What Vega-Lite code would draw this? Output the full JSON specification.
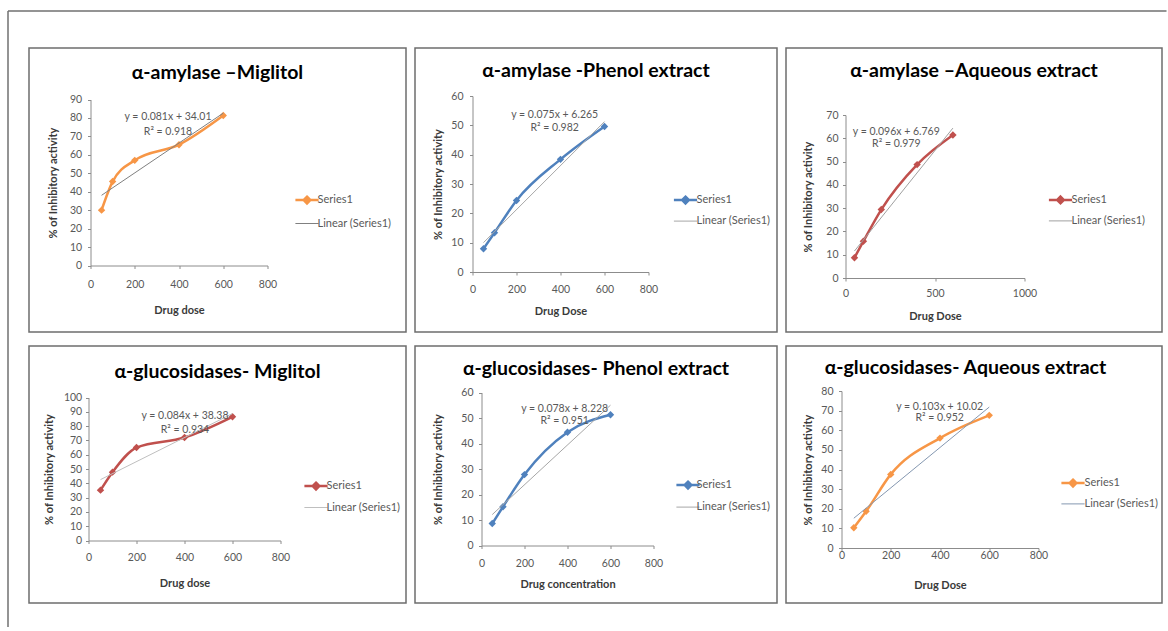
{
"$schema": "https://vega.github.io/schema/vega-lite/v6.json",
"background": "white",
"padding": {"left": 6.5, "top": 10, "right": 0, "bottom": 0},
"config": {
  "font": "Lato",
  "view": {"stroke": null},
  "axis": {"grid": false, "zindex": 1, "domainColor": "#8c8c8c", "tickColor": "#8c8c8c", "tickSize": 3, "labelColor": "#595959", "labelFontSize": 10.5, "titleFontSize": 11, "titleFontWeight": "bold", "titleColor": "#3a3a3a", "labelOverlap": false, "labelFlush": false},
  "title": {"fontSize": 19.5, "fontWeight": "bold", "color": "#000000", "anchor": "middle", "frame": "bounds", "baseline": "alphabetic"},
  "legend": {"orient": "none", "padding": 0, "symbolSize": 256, "labelFontSize": 11, "labelColor": "#595959", "symbolOpacity": 1}
},
"bounds": "flush",
"spacing": 75,
"resolve": {"scale": {"color": "independent", "x": "independent", "y": "independent"}},
"vconcat": [
  {
    "width": 10, "height": 10,
    "data": {"values": [{}]},
    "layer": [
      {"mark": {"type": "rule", "stroke": "#707070", "strokeWidth": 1.5},
       "encoding": {
         "x": {"datum": -82.5, "type": "quantitative", "scale": {"domain": [0, 10], "range": [0, 10], "nice": false, "zero": false}, "axis": null},
         "x2": {"datum": 1076},
         "y": {"datum": 0, "type": "quantitative", "scale": {"domain": [0, 10], "range": [0, 10], "nice": false, "zero": false}, "axis": null}}},
      {"mark": {"type": "rule", "stroke": "#707070", "strokeWidth": 1.5},
       "encoding": {
         "x": {"datum": -82.5, "type": "quantitative", "scale": {"domain": [0, 10], "range": [0, 10], "nice": false, "zero": false}, "axis": null},
         "y": {"datum": 0, "type": "quantitative", "scale": {"domain": [0, 10], "range": [0, 10], "nice": false, "zero": false}, "axis": null},
         "y2": {"datum": 616}}}
    ]
  },
  {
    "spacing": 12,
    "resolve": {"scale": {"color": "independent", "x": "independent", "y": "independent"}},
    "vconcat": [
      {
        "spacing": 6,
        "resolve": {"scale": {"color": "independent", "x": "independent", "y": "independent"}},
        "hconcat": [
          {
            "width": 177, "height": 169.5,
            "title": {"text": "α-amylase –Miglitol", "offset": -36.5},
            "data": {"values": [
              {"x": 50, "y": 30, "s": "Series1"}, {"x": 100, "y": 45.5, "s": "Series1"}, {"x": 200, "y": 57, "s": "Series1"}, {"x": 400, "y": 65.5, "s": "Series1"}, {"x": 600, "y": 81.3, "s": "Series1"},
              {"x": 50, "y": 38.06, "s": "Linear (Series1)"}, {"x": 600, "y": 82.61, "s": "Linear (Series1)"}]},
            "layer": [
              {"data": {"values": [{}]}, "mark": {"type": "rect", "fill": "transparent", "stroke": "#6d6d6d", "strokeWidth": 1.5}, "encoding": {"x": {"datum": -277.97, "type": "quantitative"}, "x2": {"datum": 1425.99}, "y": {"datum": 117.92, "type": "quantitative"}, "y2": {"datum": -36.05}}},
              {"transform": [{"filter": "datum.s === 'Series1'"}], "mark": {"type": "line", "strokeWidth": 2.5, "interpolate": "monotone"},
               "encoding": {
                 "x": {"field": "x", "type": "quantitative", "scale": {"domain": [0, 800], "nice": false, "zero": false}, "axis": {"values": [0, 200, 400, 600, 800], "tickCount": 20, "labelOverlap": false, "labelPadding": 10.7, "titlePadding": 14.3, "title": "Drug dose"}},
                 "y": {"field": "y", "type": "quantitative", "scale": {"domain": [0, 90], "nice": false, "range": [169.5, 3.5]}, "axis": {"values": [0, 10, 20, 30, 40, 50, 60, 70, 80, 90], "tickCount": 20, "labelOverlap": false, "labelPadding": 5.8, "titlePadding": 11.5, "title": "% of Inhibitory activity"}},
                 "color": {"field": "s", "type": "nominal", "scale": {"domain": ["Series1", "Linear (Series1)"], "range": ["#F79646", "#808080"]}, "legend": {"legendX": 211, "legendY": 98.6, "rowPadding": 8.4, "labelOffset": 5, "title": null, "symbolType": {"expr": "datum.value === 'Series1' ? 'M-1.45,0H1.45M0,-0.42L0.42,0L0,0.42L-0.42,0Z' : 'M-1.45,0H1.45'"}, "symbolStrokeWidth": {"expr": "datum.value === 'Series1' ? 2.5 : 1"}, "symbolFillColor": {"expr": "datum.value === 'Series1' ? '#F79646' : 'transparent'"}}}}},
              {"transform": [{"filter": "datum.s === 'Series1'"}], "mark": {"type": "point", "shape": "diamond", "filled": true, "size": 55, "opacity": 1},
               "encoding": {"x": {"field": "x", "type": "quantitative"}, "y": {"field": "y", "type": "quantitative"},
                 "color": {"field": "s", "type": "nominal", "scale": {"domain": ["Series1", "Linear (Series1)"], "range": ["#F79646", "#808080"]}, "legend": {"legendX": 211, "legendY": 98.6, "rowPadding": 8.4, "labelOffset": 5, "title": null, "symbolType": {"expr": "datum.value === 'Series1' ? 'M-1.45,0H1.45M0,-0.42L0.42,0L0,0.42L-0.42,0Z' : 'M-1.45,0H1.45'"}, "symbolStrokeWidth": {"expr": "datum.value === 'Series1' ? 2.5 : 1"}, "symbolFillColor": {"expr": "datum.value === 'Series1' ? '#F79646' : 'transparent'"}}}}},
              {"transform": [{"filter": "datum.s !== 'Series1'"}], "mark": {"type": "line", "strokeWidth": 1},
               "encoding": {"x": {"field": "x", "type": "quantitative"}, "y": {"field": "y", "type": "quantitative"},
                 "color": {"field": "s", "type": "nominal", "scale": {"domain": ["Series1", "Linear (Series1)"], "range": ["#F79646", "#808080"]}, "legend": {"legendX": 211, "legendY": 98.6, "rowPadding": 8.4, "labelOffset": 5, "title": null, "symbolType": {"expr": "datum.value === 'Series1' ? 'M-1.45,0H1.45M0,-0.42L0.42,0L0,0.42L-0.42,0Z' : 'M-1.45,0H1.45'"}, "symbolStrokeWidth": {"expr": "datum.value === 'Series1' ? 2.5 : 1"}, "symbolFillColor": {"expr": "datum.value === 'Series1' ? '#F79646' : 'transparent'"}}}}},
              {"data": {"values": [{}]}, "mark": {"type": "text", "align": "center", "baseline": "alphabetic", "fontSize": 10.5, "lineHeight": 15, "color": "#595959", "text": ["y = 0.081x + 34.01", "R² = 0.918"]}, "encoding": {"x": {"datum": 350.3, "type": "quantitative"}, "y": {"datum": 78.9, "type": "quantitative"}}}
            ]
          },
          {
            "width": 176, "height": 176,
            "title": {"text": "α-amylase -Phenol extract", "offset": -33.8},
            "data": {"values": [
              {"x": 50, "y": 7.9, "s": "Series1"}, {"x": 100, "y": 13.4, "s": "Series1"}, {"x": 200, "y": 24.4, "s": "Series1"}, {"x": 400, "y": 38.4, "s": "Series1"}, {"x": 600, "y": 49.6, "s": "Series1"},
              {"x": 50, "y": 10.02, "s": "Linear (Series1)"}, {"x": 600, "y": 51.27, "s": "Linear (Series1)"}]},
            "layer": [
              {"data": {"values": [{}]}, "mark": {"type": "rect", "fill": "transparent", "stroke": "#6d6d6d", "strokeWidth": 1.5}, "encoding": {"x": {"datum": -261.36, "type": "quantitative"}, "x2": {"datum": 1384.09}, "y": {"datum": 76.36, "type": "quantitative"}, "y2": {"datum": -20.45}}},
              {"transform": [{"filter": "datum.s === 'Series1'"}], "mark": {"type": "line", "strokeWidth": 2.5, "interpolate": "monotone"},
               "encoding": {
                 "x": {"field": "x", "type": "quantitative", "scale": {"domain": [0, 800], "nice": false, "zero": false}, "axis": {"values": [0, 200, 400, 600, 800], "tickCount": 20, "labelOverlap": false, "labelPadding": 9.2, "titlePadding": 11, "title": "Drug Dose"}},
                 "y": {"field": "y", "type": "quantitative", "scale": {"domain": [0, 60], "nice": false, "range": [176, 0]}, "axis": {"values": [0, 10, 20, 30, 40, 50, 60], "tickCount": 20, "labelOverlap": false, "labelPadding": 6.5, "titlePadding": 7.8, "title": "% of Inhibitory activity"}},
                 "color": {"field": "s", "type": "nominal", "scale": {"domain": ["Series1", "Linear (Series1)"], "range": ["#4F81BD", "#a6a6a6"]}, "legend": {"legendX": 207.5, "legendY": 98.6, "rowPadding": 6, "labelOffset": 5.5, "title": null, "symbolType": {"expr": "datum.value === 'Series1' ? 'M-1.45,0H1.45M0,-0.42L0.42,0L0,0.42L-0.42,0Z' : 'M-1.45,0H1.45'"}, "symbolStrokeWidth": {"expr": "datum.value === 'Series1' ? 2.5 : 1"}, "symbolFillColor": {"expr": "datum.value === 'Series1' ? '#4F81BD' : 'transparent'"}}}}},
              {"transform": [{"filter": "datum.s === 'Series1'"}], "mark": {"type": "point", "shape": "diamond", "filled": true, "size": 55, "opacity": 1},
               "encoding": {"x": {"field": "x", "type": "quantitative"}, "y": {"field": "y", "type": "quantitative"},
                 "color": {"field": "s", "type": "nominal", "scale": {"domain": ["Series1", "Linear (Series1)"], "range": ["#4F81BD", "#a6a6a6"]}, "legend": {"legendX": 207.5, "legendY": 98.6, "rowPadding": 6, "labelOffset": 5.5, "title": null, "symbolType": {"expr": "datum.value === 'Series1' ? 'M-1.45,0H1.45M0,-0.42L0.42,0L0,0.42L-0.42,0Z' : 'M-1.45,0H1.45'"}, "symbolStrokeWidth": {"expr": "datum.value === 'Series1' ? 2.5 : 1"}, "symbolFillColor": {"expr": "datum.value === 'Series1' ? '#4F81BD' : 'transparent'"}}}}},
              {"transform": [{"filter": "datum.s !== 'Series1'"}], "mark": {"type": "line", "strokeWidth": 1},
               "encoding": {"x": {"field": "x", "type": "quantitative"}, "y": {"field": "y", "type": "quantitative"},
                 "color": {"field": "s", "type": "nominal", "scale": {"domain": ["Series1", "Linear (Series1)"], "range": ["#4F81BD", "#a6a6a6"]}, "legend": {"legendX": 207.5, "legendY": 98.6, "rowPadding": 6, "labelOffset": 5.5, "title": null, "symbolType": {"expr": "datum.value === 'Series1' ? 'M-1.45,0H1.45M0,-0.42L0.42,0L0,0.42L-0.42,0Z' : 'M-1.45,0H1.45'"}, "symbolStrokeWidth": {"expr": "datum.value === 'Series1' ? 2.5 : 1"}, "symbolFillColor": {"expr": "datum.value === 'Series1' ? '#4F81BD' : 'transparent'"}}}}},
              {"data": {"values": [{}]}, "mark": {"type": "text", "align": "center", "baseline": "alphabetic", "fontSize": 10.5, "lineHeight": 13.3, "color": "#595959", "text": ["y = 0.075x + 6.265", "R² = 0.982"]}, "encoding": {"x": {"datum": 373.6, "type": "quantitative"}, "y": {"datum": 52.5, "type": "quantitative"}}}
            ]
          },
          {
            "width": 179, "height": 182,
            "title": {"text": "α-amylase –Aqueous extract", "offset": -33.8},
            "data": {"values": [
              {"x": 50, "y": 8.7, "s": "Series1"}, {"x": 100, "y": 15.8, "s": "Series1"}, {"x": 200, "y": 29.4, "s": "Series1"}, {"x": 400, "y": 48.7, "s": "Series1"}, {"x": 600, "y": 61.4, "s": "Series1"},
              {"x": 50, "y": 11.57, "s": "Linear (Series1)"}, {"x": 600, "y": 64.37, "s": "Linear (Series1)"}]},
            "layer": [
              {"data": {"values": [{}]}, "mark": {"type": "rect", "fill": "transparent", "stroke": "#6d6d6d", "strokeWidth": 1.5}, "encoding": {"x": {"datum": -332.4, "type": "quantitative"}, "x2": {"datum": 1768.16}, "y": {"datum": 98.77, "type": "quantitative"}, "y2": {"datum": -23.19}}},
              {"transform": [{"filter": "datum.s === 'Series1'"}], "mark": {"type": "line", "strokeWidth": 2.5, "interpolate": "monotone"},
               "encoding": {
                 "x": {"field": "x", "type": "quantitative", "scale": {"domain": [0, 1000], "nice": false, "zero": false}, "axis": {"values": [0, 500, 1000], "tickCount": 20, "format": "d", "labelOverlap": false, "labelPadding": 7.5, "titlePadding": 11.7, "title": "Drug Dose"}},
                 "y": {"field": "y", "type": "quantitative", "scale": {"domain": [0, 70], "nice": false, "range": [182, 19]}, "axis": {"values": [0, 10, 20, 30, 40, 50, 60, 70], "tickCount": 20, "labelOverlap": false, "labelPadding": 4.5, "titlePadding": 12.8, "title": "% of Inhibitory activity"}},
                 "color": {"field": "s", "type": "nominal", "scale": {"domain": ["Series1", "Linear (Series1)"], "range": ["#C0504D", "#a0a0a0"]}, "legend": {"legendX": 209.5, "legendY": 98.4, "rowPadding": 6, "labelOffset": 5.5, "title": null, "symbolType": {"expr": "datum.value === 'Series1' ? 'M-1.45,0H1.45M0,-0.42L0.42,0L0,0.42L-0.42,0Z' : 'M-1.45,0H1.45'"}, "symbolStrokeWidth": {"expr": "datum.value === 'Series1' ? 2.5 : 1"}, "symbolFillColor": {"expr": "datum.value === 'Series1' ? '#C0504D' : 'transparent'"}}}}},
              {"transform": [{"filter": "datum.s === 'Series1'"}], "mark": {"type": "point", "shape": "diamond", "filled": true, "size": 55, "opacity": 1},
               "encoding": {"x": {"field": "x", "type": "quantitative"}, "y": {"field": "y", "type": "quantitative"},
                 "color": {"field": "s", "type": "nominal", "scale": {"domain": ["Series1", "Linear (Series1)"], "range": ["#C0504D", "#a0a0a0"]}, "legend": {"legendX": 209.5, "legendY": 98.4, "rowPadding": 6, "labelOffset": 5.5, "title": null, "symbolType": {"expr": "datum.value === 'Series1' ? 'M-1.45,0H1.45M0,-0.42L0.42,0L0,0.42L-0.42,0Z' : 'M-1.45,0H1.45'"}, "symbolStrokeWidth": {"expr": "datum.value === 'Series1' ? 2.5 : 1"}, "symbolFillColor": {"expr": "datum.value === 'Series1' ? '#C0504D' : 'transparent'"}}}}},
              {"transform": [{"filter": "datum.s !== 'Series1'"}], "mark": {"type": "line", "strokeWidth": 1},
               "encoding": {"x": {"field": "x", "type": "quantitative"}, "y": {"field": "y", "type": "quantitative"},
                 "color": {"field": "s", "type": "nominal", "scale": {"domain": ["Series1", "Linear (Series1)"], "range": ["#C0504D", "#a0a0a0"]}, "legend": {"legendX": 209.5, "legendY": 98.4, "rowPadding": 6, "labelOffset": 5.5, "title": null, "symbolType": {"expr": "datum.value === 'Series1' ? 'M-1.45,0H1.45M0,-0.42L0.42,0L0,0.42L-0.42,0Z' : 'M-1.45,0H1.45'"}, "symbolStrokeWidth": {"expr": "datum.value === 'Series1' ? 2.5 : 1"}, "symbolFillColor": {"expr": "datum.value === 'Series1' ? '#C0504D' : 'transparent'"}}}}},
              {"data": {"values": [{}]}, "mark": {"type": "text", "align": "center", "baseline": "alphabetic", "fontSize": 10.5, "lineHeight": 12.3, "color": "#595959", "text": ["y = 0.096x + 6.769", "R² = 0.979"]}, "encoding": {"x": {"datum": 283.8, "type": "quantitative"}, "y": {"datum": 61.5, "type": "quantitative"}}}
            ]
          }
        ]
      },
      {
        "spacing": 6,
        "resolve": {"scale": {"color": "independent", "x": "independent", "y": "independent"}},
        "hconcat": [
          {
            "width": 190, "height": 149.5,
            "title": {"text": "α-glucosidases- Miglitol", "offset": -36.8},
            "data": {"values": [
              {"x": 50, "y": 35.2, "s": "Series1"}, {"x": 100, "y": 47.8, "s": "Series1"}, {"x": 200, "y": 65, "s": "Series1"}, {"x": 400, "y": 72, "s": "Series1"}, {"x": 600, "y": 86.5, "s": "Series1"},
              {"x": 50, "y": 42.58, "s": "Linear (Series1)"}, {"x": 600, "y": 88.78, "s": "Linear (Series1)"}]},
            "layer": [
              {"data": {"values": [{}]}, "mark": {"type": "rect", "fill": "transparent", "stroke": "#6d6d6d", "strokeWidth": 1.5}, "encoding": {"x": {"datum": -247.92, "type": "quantitative"}, "x2": {"datum": 1322.92}, "y": {"datum": 136.01, "type": "quantitative"}, "y2": {"datum": -43.71}}},
              {"transform": [{"filter": "datum.s === 'Series1'"}], "mark": {"type": "line", "strokeWidth": 2.5, "interpolate": "monotone"},
               "encoding": {
                 "x": {"field": "x", "type": "quantitative", "scale": {"domain": [0, 800], "nice": false, "zero": false, "range": [-2, 190]}, "axis": {"values": [0, 200, 400, 600, 800], "tickCount": 20, "labelOverlap": false, "labelPadding": 9, "titlePadding": 14.3, "title": "Drug dose"}},
                 "y": {"field": "y", "type": "quantitative", "scale": {"domain": [0, 100], "nice": false, "range": [149.5, 6.5]}, "axis": {"values": [0, 10, 20, 30, 40, 50, 60, 70, 80, 90, 100], "tickCount": 20, "labelOverlap": false, "labelPadding": 3.8, "titlePadding": 8.7, "offset": 2, "title": "% of Inhibitory activity"}},
                 "color": {"field": "s", "type": "nominal", "scale": {"domain": ["Series1", "Linear (Series1)"], "range": ["#C0504D", "#bfbfbf"]}, "legend": {"legendX": 220, "legendY": 89.6, "rowPadding": 6.4, "labelOffset": 5, "title": null, "symbolType": {"expr": "datum.value === 'Series1' ? 'M-1.45,0H1.45M0,-0.42L0.42,0L0,0.42L-0.42,0Z' : 'M-1.45,0H1.45'"}, "symbolStrokeWidth": {"expr": "datum.value === 'Series1' ? 2.5 : 1"}, "symbolFillColor": {"expr": "datum.value === 'Series1' ? '#C0504D' : 'transparent'"}}}}},
              {"transform": [{"filter": "datum.s === 'Series1'"}], "mark": {"type": "point", "shape": "diamond", "filled": true, "size": 55, "opacity": 1},
               "encoding": {"x": {"field": "x", "type": "quantitative"}, "y": {"field": "y", "type": "quantitative"},
                 "color": {"field": "s", "type": "nominal", "scale": {"domain": ["Series1", "Linear (Series1)"], "range": ["#C0504D", "#bfbfbf"]}, "legend": {"legendX": 220, "legendY": 89.6, "rowPadding": 6.4, "labelOffset": 5, "title": null, "symbolType": {"expr": "datum.value === 'Series1' ? 'M-1.45,0H1.45M0,-0.42L0.42,0L0,0.42L-0.42,0Z' : 'M-1.45,0H1.45'"}, "symbolStrokeWidth": {"expr": "datum.value === 'Series1' ? 2.5 : 1"}, "symbolFillColor": {"expr": "datum.value === 'Series1' ? '#C0504D' : 'transparent'"}}}}},
              {"transform": [{"filter": "datum.s !== 'Series1'"}], "mark": {"type": "line", "strokeWidth": 1},
               "encoding": {"x": {"field": "x", "type": "quantitative"}, "y": {"field": "y", "type": "quantitative"},
                 "color": {"field": "s", "type": "nominal", "scale": {"domain": ["Series1", "Linear (Series1)"], "range": ["#C0504D", "#bfbfbf"]}, "legend": {"legendX": 220, "legendY": 89.6, "rowPadding": 6.4, "labelOffset": 5, "title": null, "symbolType": {"expr": "datum.value === 'Series1' ? 'M-1.45,0H1.45M0,-0.42L0.42,0L0,0.42L-0.42,0Z' : 'M-1.45,0H1.45'"}, "symbolStrokeWidth": {"expr": "datum.value === 'Series1' ? 2.5 : 1"}, "symbolFillColor": {"expr": "datum.value === 'Series1' ? '#C0504D' : 'transparent'"}}}}},
              {"data": {"values": [{}]}, "mark": {"type": "text", "align": "center", "baseline": "alphabetic", "fontSize": 10.5, "lineHeight": 14.3, "color": "#595959", "text": ["y = 0.084x + 38.38", "R² = 0.934"]}, "encoding": {"x": {"datum": 402, "type": "quantitative"}, "y": {"datum": 85.2, "type": "quantitative"}}}
            ]
          },
          {
            "width": 172, "height": 154.5,
            "title": {"text": "α-glucosidases- Phenol extract", "offset": -34.2},
            "data": {"values": [
              {"x": 50, "y": 8.6, "s": "Series1"}, {"x": 100, "y": 15.2, "s": "Series1"}, {"x": 200, "y": 27.8, "s": "Series1"}, {"x": 400, "y": 44.4, "s": "Series1"}, {"x": 600, "y": 51.3, "s": "Series1"},
              {"x": 50, "y": 12.13, "s": "Linear (Series1)"}, {"x": 600, "y": 55.03, "s": "Linear (Series1)"}]},
            "layer": [
              {"data": {"values": [{}]}, "mark": {"type": "rect", "fill": "transparent", "stroke": "#6d6d6d", "strokeWidth": 1.5}, "encoding": {"x": {"datum": -309.3, "type": "quantitative"}, "x2": {"datum": 1374.42}, "y": {"datum": 78.24, "type": "quantitative"}, "y2": {"datum": -22.55}}},
              {"transform": [{"filter": "datum.s === 'Series1'"}], "mark": {"type": "line", "strokeWidth": 2.5, "interpolate": "monotone"},
               "encoding": {
                 "x": {"field": "x", "type": "quantitative", "scale": {"domain": [0, 800], "nice": false, "zero": false}, "axis": {"values": [0, 200, 400, 600, 800], "tickCount": 20, "labelOverlap": false, "labelPadding": 9.7, "titlePadding": 9.6, "title": "Drug concentration"}},
                 "y": {"field": "y", "type": "quantitative", "scale": {"domain": [0, 60], "nice": false, "range": [154.5, 1.5]}, "axis": {"values": [0, 10, 20, 30, 40, 50, 60], "tickCount": 20, "labelOverlap": false, "labelPadding": 5.5, "titlePadding": 17.8, "title": "% of Inhibitory activity"}},
                 "color": {"field": "s", "type": "nominal", "scale": {"domain": ["Series1", "Linear (Series1)"], "range": ["#4F81BD", "#a6a6a6"]}, "legend": {"legendX": 201, "legendY": 88.6, "rowPadding": 7, "labelOffset": 3, "title": null, "symbolType": {"expr": "datum.value === 'Series1' ? 'M-1.45,0H1.45M0,-0.42L0.42,0L0,0.42L-0.42,0Z' : 'M-1.45,0H1.45'"}, "symbolStrokeWidth": {"expr": "datum.value === 'Series1' ? 2.5 : 1"}, "symbolFillColor": {"expr": "datum.value === 'Series1' ? '#4F81BD' : 'transparent'"}}}}},
              {"transform": [{"filter": "datum.s === 'Series1'"}], "mark": {"type": "point", "shape": "diamond", "filled": true, "size": 55, "opacity": 1},
               "encoding": {"x": {"field": "x", "type": "quantitative"}, "y": {"field": "y", "type": "quantitative"},
                 "color": {"field": "s", "type": "nominal", "scale": {"domain": ["Series1", "Linear (Series1)"], "range": ["#4F81BD", "#a6a6a6"]}, "legend": {"legendX": 201, "legendY": 88.6, "rowPadding": 7, "labelOffset": 3, "title": null, "symbolType": {"expr": "datum.value === 'Series1' ? 'M-1.45,0H1.45M0,-0.42L0.42,0L0,0.42L-0.42,0Z' : 'M-1.45,0H1.45'"}, "symbolStrokeWidth": {"expr": "datum.value === 'Series1' ? 2.5 : 1"}, "symbolFillColor": {"expr": "datum.value === 'Series1' ? '#4F81BD' : 'transparent'"}}}}},
              {"transform": [{"filter": "datum.s !== 'Series1'"}], "mark": {"type": "line", "strokeWidth": 1},
               "encoding": {"x": {"field": "x", "type": "quantitative"}, "y": {"field": "y", "type": "quantitative"},
                 "color": {"field": "s", "type": "nominal", "scale": {"domain": ["Series1", "Linear (Series1)"], "range": ["#4F81BD", "#a6a6a6"]}, "legend": {"legendX": 201, "legendY": 88.6, "rowPadding": 7, "labelOffset": 3, "title": null, "symbolType": {"expr": "datum.value === 'Series1' ? 'M-1.45,0H1.45M0,-0.42L0.42,0L0,0.42L-0.42,0Z' : 'M-1.45,0H1.45'"}, "symbolStrokeWidth": {"expr": "datum.value === 'Series1' ? 2.5 : 1"}, "symbolFillColor": {"expr": "datum.value === 'Series1' ? '#4F81BD' : 'transparent'"}}}}},
              {"data": {"values": [{}]}, "mark": {"type": "text", "align": "center", "baseline": "alphabetic", "fontSize": 10.5, "lineHeight": 12, "color": "#595959", "text": ["y = 0.078x + 8.228", "R² = 0.951"]}, "encoding": {"x": {"datum": 387, "type": "quantitative"}, "y": {"datum": 52.35, "type": "quantitative"}}}
            ]
          },
          {
            "width": 197, "height": 157,
            "title": {"text": "α-glucosidases- Aqueous extract", "offset": -33.5, "dx": -8.5},
            "data": {"values": [
              {"x": 50, "y": 10.3, "s": "Series1"}, {"x": 100, "y": 18.7, "s": "Series1"}, {"x": 200, "y": 37.5, "s": "Series1"}, {"x": 400, "y": 56, "s": "Series1"}, {"x": 600, "y": 67.6, "s": "Series1"},
              {"x": 50, "y": 15.17, "s": "Linear (Series1)"}, {"x": 600, "y": 71.82, "s": "Linear (Series1)"}]},
            "layer": [
              {"data": {"values": [{}]}, "mark": {"type": "rect", "fill": "transparent", "stroke": "#6d6d6d", "strokeWidth": 1.5}, "encoding": {"x": {"datum": -225.38, "type": "quantitative"}, "x2": {"datum": 1301.52}, "y": {"datum": 102.93, "type": "quantitative"}, "y2": {"datum": -28.03}}},
              {"transform": [{"filter": "datum.s === 'Series1'"}], "mark": {"type": "line", "strokeWidth": 2.5, "interpolate": "monotone"},
               "encoding": {
                 "x": {"field": "x", "type": "quantitative", "scale": {"domain": [0, 800], "nice": false, "zero": false}, "axis": {"values": [0, 200, 400, 600, 800], "tickCount": 20, "labelOverlap": false, "labelPadding": -0.5, "titlePadding": 18.7, "title": "Drug Dose"}},
                 "y": {"field": "y", "type": "quantitative", "scale": {"domain": [0, 80], "nice": false, "range": [157, 0]}, "axis": {"values": [0, 10, 20, 30, 40, 50, 60, 70, 80], "tickCount": 20, "labelOverlap": false, "labelPadding": 5.5, "titlePadding": 7.8, "title": "% of Inhibitory activity"}},
                 "color": {"field": "s", "type": "nominal", "scale": {"domain": ["Series1", "Linear (Series1)"], "range": ["#F79646", "#8497b0"]}, "legend": {"legendX": 226, "legendY": 86.6, "rowPadding": 5.8, "labelOffset": 6, "title": null, "symbolType": {"expr": "datum.value === 'Series1' ? 'M-1.45,0H1.45M0,-0.42L0.42,0L0,0.42L-0.42,0Z' : 'M-1.45,0H1.45'"}, "symbolStrokeWidth": {"expr": "datum.value === 'Series1' ? 2.5 : 1"}, "symbolFillColor": {"expr": "datum.value === 'Series1' ? '#F79646' : 'transparent'"}}}}},
              {"transform": [{"filter": "datum.s === 'Series1'"}], "mark": {"type": "point", "shape": "diamond", "filled": true, "size": 55, "opacity": 1},
               "encoding": {"x": {"field": "x", "type": "quantitative"}, "y": {"field": "y", "type": "quantitative"},
                 "color": {"field": "s", "type": "nominal", "scale": {"domain": ["Series1", "Linear (Series1)"], "range": ["#F79646", "#8497b0"]}, "legend": {"legendX": 226, "legendY": 86.6, "rowPadding": 5.8, "labelOffset": 6, "title": null, "symbolType": {"expr": "datum.value === 'Series1' ? 'M-1.45,0H1.45M0,-0.42L0.42,0L0,0.42L-0.42,0Z' : 'M-1.45,0H1.45'"}, "symbolStrokeWidth": {"expr": "datum.value === 'Series1' ? 2.5 : 1"}, "symbolFillColor": {"expr": "datum.value === 'Series1' ? '#F79646' : 'transparent'"}}}}},
              {"transform": [{"filter": "datum.s !== 'Series1'"}], "mark": {"type": "line", "strokeWidth": 1},
               "encoding": {"x": {"field": "x", "type": "quantitative"}, "y": {"field": "y", "type": "quantitative"},
                 "color": {"field": "s", "type": "nominal", "scale": {"domain": ["Series1", "Linear (Series1)"], "range": ["#F79646", "#8497b0"]}, "legend": {"legendX": 226, "legendY": 86.6, "rowPadding": 5.8, "labelOffset": 6, "title": null, "symbolType": {"expr": "datum.value === 'Series1' ? 'M-1.45,0H1.45M0,-0.42L0.42,0L0,0.42L-0.42,0Z' : 'M-1.45,0H1.45'"}, "symbolStrokeWidth": {"expr": "datum.value === 'Series1' ? 2.5 : 1"}, "symbolFillColor": {"expr": "datum.value === 'Series1' ? '#F79646' : 'transparent'"}}}}},
              {"data": {"values": [{}]}, "mark": {"type": "text", "align": "center", "baseline": "alphabetic", "fontSize": 10.5, "lineHeight": 11, "color": "#595959", "text": ["y = 0.103x + 10.02", "R² = 0.952"]}, "encoding": {"x": {"datum": 398.8, "type": "quantitative"}, "y": {"datum": 70.5, "type": "quantitative"}}}
            ]
          }
        ]
      }
    ]
  }
]
}
